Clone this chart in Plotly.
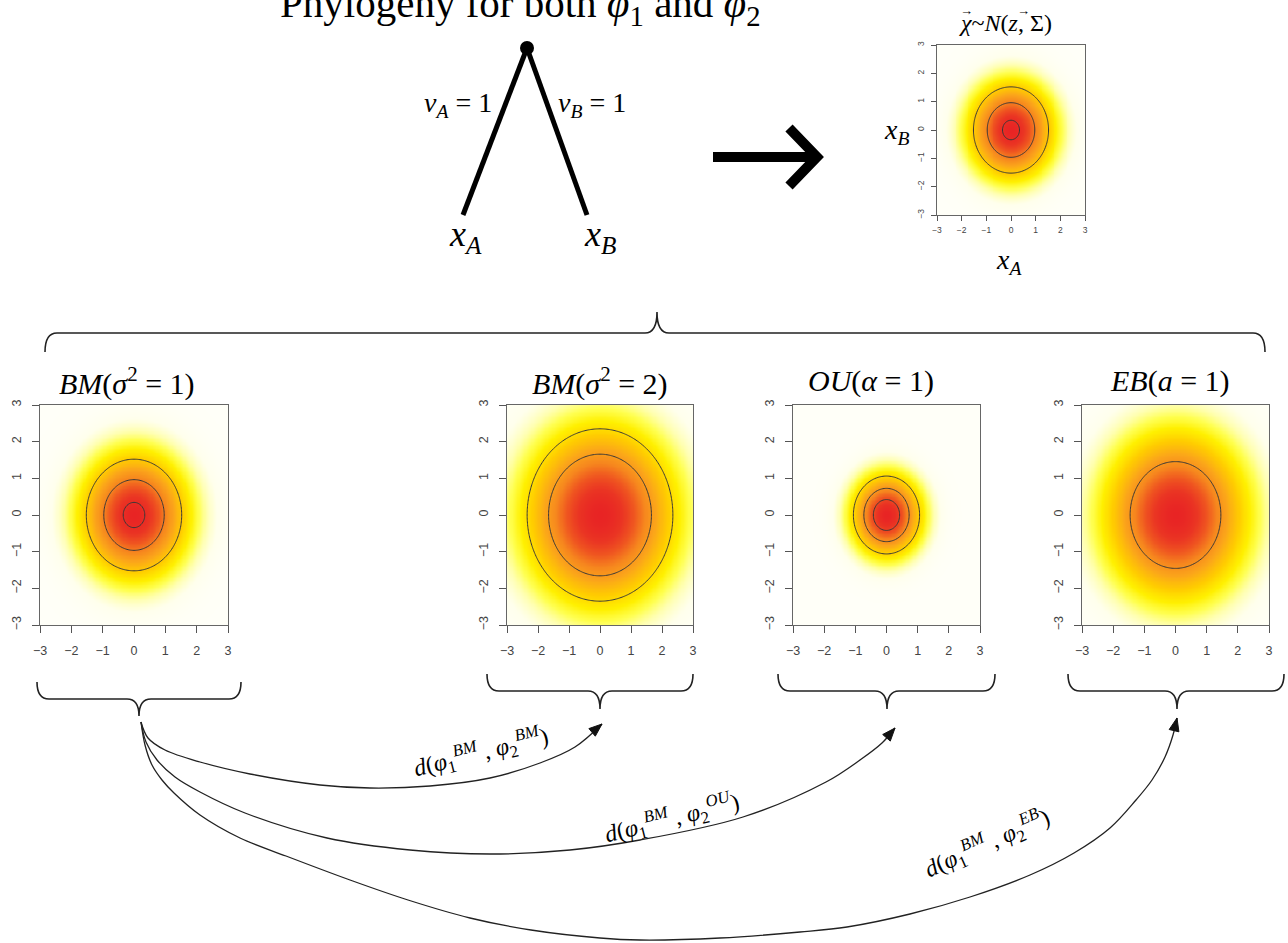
import numpy as np
import plotly.graph_objects as go

W, H = 1288, 943

# ---------------- data ----------------
panel_keys = ["tree", "bm1", "bm2", "ou", "eb"]
panel_titles = [
    "<i>χ</i>~<i>N</i>(<i>z</i>, Σ)",
    "<i>BM</i>(<i>σ</i><sup>2</sup> = 1)",
    "<i>BM</i>(<i>σ</i><sup>2</sup> = 2)",
    "<i>OU</i>(<i>α</i> = 1)",
    "<i>EB</i>(<i>a</i> = 1)",
]
panel_variance = [1.0, 1.0, 2.0, 0.432, 1.718]
contour_lo = [0.05, 0.05, 0.02, 0.10, 0.05]
contour_hi = [0.15, 0.15, 0.04, 0.30, 0.05]
contour_step = [0.05, 0.05, 0.02, 0.10, 0.05]
tick_vals = [-3, -2, -1, 0, 1, 2, 3]
tick_text = ["\u22123", "\u22122", "\u22121", "0", "1", "2", "3"]
grid = np.linspace(-3, 3, 161)

curve_labels = [
    "<i>d</i>(<i>φ</i><sub>1</sub><sup><i>BM</i></sup> , <i>φ</i><sub>2</sub><sup><i>BM</i></sup>)",
    "<i>d</i>(<i>φ</i><sub>1</sub><sup><i>BM</i></sup> , <i>φ</i><sub>2</sub><sup><i>OU</i></sup>)",
    "<i>d</i>(<i>φ</i><sub>1</sub><sup><i>BM</i></sup> , <i>φ</i><sub>2</sub><sup><i>EB</i></sup>)",
]
# curves (pixel space)
curve1_x = [141, 148, 165, 200, 250, 320, 370, 430, 490, 540, 575, 602]
curve1_y = [722, 738, 750, 762, 774, 785, 788, 786, 778, 763, 747, 724]
curve2_x = [141, 146, 157, 175, 200, 245, 327, 410, 490, 570, 640, 743, 826, 860, 882, 895]
curve2_y = [722, 742, 760, 777, 792, 813, 838, 850, 854, 850, 840, 817, 782, 760, 743, 728]
curve3_x = [141, 145, 152, 162, 174, 200, 240, 286, 350, 408, 470, 531, 600, 640, 720, 800,
            847, 910, 970, 1030, 1074, 1110, 1136, 1152, 1165, 1173, 1177]
curve3_y = [722, 745, 765, 780, 793, 815, 838, 856, 880, 900, 918, 930, 938, 940, 938, 932,
            927, 914, 897, 875, 853, 828, 800, 780, 757, 735, 718]

# ---------------- layout geometry (pixels) ----------------
boxes = {  # left, right, top, bottom
    "tree": (937, 1085, 45, 215),
    "bm1": (40, 228, 405, 625),
    "bm2": (507, 693, 405, 625),
    "ou": (793, 980, 405, 625),
    "eb": (1082, 1269, 405, 625),
}
title_pos = {"tree": (1005, 23, 24), "bm1": (127, 381, 30), "bm2": (600, 381, 30),
             "ou": (871, 381, 30), "eb": (1170, 381, 30)}

colorscale = [
    [0.0, "#FFFFF8"], [0.03, "#FFFFEC"], [0.07, "#FFFFB0"], [0.12, "#FFFF50"],
    [0.19, "#FFF000"], [0.30, "#FFCC00"], [0.45, "#FBA51A"], [0.60, "#F6861E"],
    [0.75, "#EF5520"], [0.88, "#EA3523"], [1.0, "#E82424"],
]

fig = go.Figure()
layout = dict(
    width=W, height=H, margin=dict(l=0, r=0, t=0, b=0, autoexpand=False),
    paper_bgcolor="white", plot_bgcolor="rgba(0,0,0,0)", showlegend=False,
    template="none",
)

X, Y = np.meshgrid(grid, grid)
for i, key in enumerate(panel_keys):
    n = i + 1
    xa = "x" if n == 1 else f"x{n}"
    ya = "y" if n == 1 else f"y{n}"
    v = panel_variance[i]
    z = np.exp(-(X ** 2 + Y ** 2) / (2 * v)) / (2 * np.pi * v)
    fig.add_trace(go.Heatmap(x=grid, y=grid, z=z, colorscale=colorscale, zmin=0,
                             zmax=float(z.max()), showscale=False, zsmooth="best",
                             xaxis=xa, yaxis=ya, hoverinfo="skip"))
    fig.add_trace(go.Contour(x=grid, y=grid, z=z, autocontour=False,
                             contours=dict(start=contour_lo[i], end=contour_hi[i],
                                           size=contour_step[i], coloring="none",
                                           showlabels=False),
                             line=dict(color="#383838", width=1), showscale=False,
                             xaxis=xa, yaxis=ya, hoverinfo="skip"))
    l, r, t, b = boxes[key]
    small = key == "tree"
    fs = 8.5 if small else 12.5
    tl = 5 if small else 7
    common = dict(range=[-3, 3], tickmode="array", tickvals=tick_vals, ticktext=tick_text,
                  ticks="outside", ticklen=tl, tickcolor="#555", tickwidth=1,
                  showline=True, linecolor="#666", linewidth=1, mirror=True,
                  showgrid=False, zeroline=False, automargin=False,
                  tickfont=dict(family="Liberation Sans", size=fs, color="#444"),
                  fixedrange=True)
    layout["xaxis" if n == 1 else f"xaxis{n}"] = dict(
        domain=[l / W, r / W], anchor=ya, ticklabelstandoff=(2 if small else 7), **common)
    layout["yaxis" if n == 1 else f"yaxis{n}"] = dict(
        domain=[1 - b / H, 1 - t / H], anchor=xa, tickangle=-90,
        ticklabelstandoff=(4 if small else 6), **common)

# overlay pixel axis
OV = 6
layout[f"xaxis{OV}"] = dict(domain=[0, 1], range=[0, W], visible=False, fixedrange=True,
                            anchor=f"y{OV}", automargin=False)
layout[f"yaxis{OV}"] = dict(domain=[0, 1], range=[H, 0], visible=False, fixedrange=True,
                            anchor=f"x{OV}", automargin=False)
px, py = f"x{OV}", f"y{OV}"

for cx, cy in [(curve1_x, curve1_y), (curve2_x, curve2_y), (curve3_x, curve3_y)]:
    fig.add_trace(go.Scatter(x=cx, y=cy, mode="lines",
                             line=dict(color="#222", width=1.3, shape="spline", smoothing=1.0),
                             xaxis=px, yaxis=py, hoverinfo="skip"))

shapes = []
# arrowheads at curve ends
for cx, cy in [(curve1_x, curve1_y), (curve2_x, curve2_y), (curve3_x, curve3_y)]:
    tx, ty = cx[-1], cy[-1]
    dx, dy = cx[-1] - cx[-2], cy[-1] - cy[-2]
    nrm = (dx * dx + dy * dy) ** 0.5
    ux, uy = dx / nrm, dy / nrm
    L, Wd = 13, 5
    bx, by = tx - ux * L, ty - uy * L
    p1 = (bx - uy * Wd, by + ux * Wd)
    p2 = (bx + uy * Wd, by - ux * Wd)
    shapes.append(dict(type="path", xref=px, yref=py,
                       path=f"M {tx},{ty} L {p1[0]:.1f},{p1[1]:.1f} L {p2[0]:.1f},{p2[1]:.1f} Z",
                       fillcolor="#111", line=dict(color="#111", width=1)))


def brace_down(xl, xr, y0, y1, xc, y2, r=12):
    return (f"M {xl},{y0} Q {xl},{y1} {xl + r},{y1} L {xc - r},{y1} "
            f"Q {xc},{y1} {xc},{y2} Q {xc},{y1} {xc + r},{y1} L {xr - r},{y1} "
            f"Q {xr},{y1} {xr},{y0}")


brace_specs = [
    (45, 1265, 352, 333, 657, 312),
    (37, 241, 682, 699, 139, 716),
    (487, 693, 674, 691, 600, 709),
    (778, 995, 674, 691, 887, 709),
    (1068, 1284, 674, 691, 1177, 709),
]
for spec in brace_specs:
    shapes.append(dict(type="path", xref=px, yref=py, path=brace_down(*spec),
                       line=dict(color="#222", width=1.6)))

# phylogeny tree
shapes += [
    dict(type="line", xref=px, yref=py, x0=527, y0=48, x1=463, y1=215,
         line=dict(color="black", width=5)),
    dict(type="line", xref=px, yref=py, x0=527, y0=48, x1=587, y1=215,
         line=dict(color="black", width=5)),
    dict(type="circle", xref=px, yref=py, x0=520, y0=41, x1=534, y1=55,
         fillcolor="black", line=dict(color="black", width=0)),
]
# big arrow
shapes += [
    dict(type="line", xref=px, yref=py, x0=713, y0=157, x1=812, y1=157,
         line=dict(color="black", width=10)),
    dict(type="path", xref=px, yref=py, path="M 789,128 L 817,157 L 789,186",
         line=dict(color="black", width=10)),
]
layout["shapes"] = shapes

ann = []


def txt(x, y, s, size, family="Liberation Serif", angle=0, xanchor="center", yanchor="middle"):
    ann.append(dict(x=x, y=y, xref=px, yref=py, text=s, showarrow=False, textangle=angle,
                    xanchor=xanchor, yanchor=yanchor,
                    font=dict(family=family, size=size, color="black")))


txt(520, 6, "Phylogeny for both <i>φ</i><sub>1</sub> and <i>φ</i><sub>2</sub>", 41)
txt(494, 104, "<i>v</i><sub><i>A</i></sub> = 1", 28, xanchor="right")
txt(556, 104, "<i>v</i><sub><i>B</i></sub> = 1", 28, xanchor="left")
txt(465, 236, "<i>x</i><sub><i>A</i></sub>", 36)
txt(600, 236, "<i>x</i><sub><i>B</i></sub>", 36)
txt(896, 131, "<i>x</i><sub><i>B</i></sub>", 28)
txt(1009, 261, "<i>x</i><sub><i>A</i></sub>", 28)
for i, key in enumerate(panel_keys):
    x, y, s = title_pos[key]
    txt(x, y, panel_titles[i], s)
# vector arrows over χ and z in the small title
txt(966, 10, "→", 13)
txt(1023, 10, "→", 13)
txt(481, 752, curve_labels[0], 24, angle=-14)
txt(672, 818, curve_labels[1], 24, angle=-14)
txt(987, 843, curve_labels[2], 24, angle=-24)
layout["annotations"] = ann

fig.update_layout(**layout)
fig.write_html("out.html", config={"displayModeBar": False, "staticPlot": True},
               post_script="document.body.style.margin='0px';document.body.style.overflow='hidden';")
